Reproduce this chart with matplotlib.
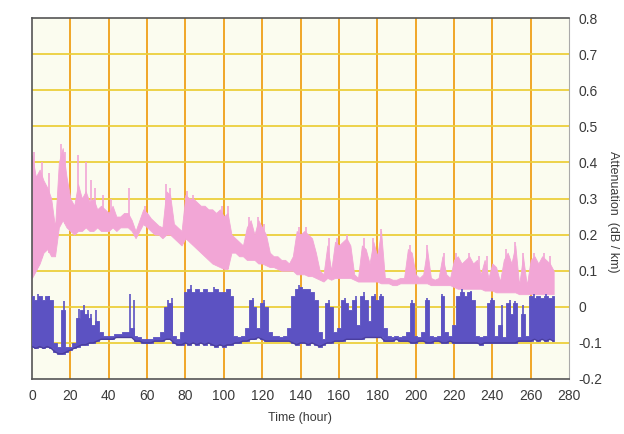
import numpy as np
import matplotlib
matplotlib.use("Agg")
import matplotlib.pyplot as plt

# time grid (hours), one reading every 2 h
hours = np.arange(0, 274, 2)

# pink trace: lower / upper envelope of the dense band
pink_hi = [0.42, 0.36, 0.38, 0.35, 0.33, 0.30, 0.22, 0.40, 0.44, 0.36,
           0.30, 0.28, 0.34, 0.30, 0.32, 0.29, 0.30, 0.27, 0.28, 0.27,
           0.26, 0.28, 0.25, 0.25, 0.26, 0.26, 0.24, 0.21, 0.24, 0.27,
           0.26, 0.245, 0.235, 0.225, 0.22, 0.32, 0.31, 0.23, 0.22, 0.21,
           0.31, 0.30, 0.30, 0.29, 0.28, 0.28, 0.27, 0.27, 0.26, 0.27,
           0.25, 0.26, 0.20, 0.19, 0.18, 0.17, 0.22, 0.24, 0.20, 0.24,
           0.22, 0.20, 0.15, 0.14, 0.14, 0.13, 0.13, 0.12, 0.14, 0.21,
           0.20, 0.21, 0.20, 0.19, 0.15, 0.10, 0.09, 0.17, 0.10, 0.18,
           0.17, 0.18, 0.19, 0.17, 0.09, 0.08, 0.17, 0.16, 0.12, 0.18,
           0.14, 0.21, 0.08, 0.08, 0.075, 0.075, 0.08, 0.08, 0.16, 0.15,
           0.09, 0.08, 0.09, 0.16, 0.08, 0.075, 0.08, 0.14, 0.09, 0.08,
           0.13, 0.14, 0.12, 0.13, 0.14, 0.12, 0.13, 0.09, 0.13, 0.08,
           0.12, 0.11, 0.07, 0.13, 0.15, 0.12, 0.17, 0.06, 0.14, 0.06,
           0.13, 0.14, 0.12, 0.14, 0.13, 0.12, 0.10]
pink_lo = [0.08, 0.10, 0.12, 0.15, 0.16, 0.14, 0.14, 0.22, 0.24, 0.22,
           0.21, 0.20, 0.21, 0.21, 0.22, 0.21, 0.21, 0.22, 0.21, 0.21,
           0.21, 0.22, 0.21, 0.22, 0.22, 0.22, 0.21, 0.19, 0.21, 0.23,
           0.22, 0.21, 0.20, 0.20, 0.19, 0.20, 0.20, 0.19, 0.18, 0.17,
           0.19, 0.18, 0.17, 0.16, 0.15, 0.14, 0.13, 0.12, 0.115, 0.11,
           0.105, 0.105, 0.15, 0.15, 0.14, 0.14, 0.13, 0.13, 0.13, 0.12,
           0.12, 0.115, 0.11, 0.11, 0.105, 0.10, 0.10, 0.10, 0.10, 0.09,
           0.09, 0.09, 0.085, 0.085, 0.08, 0.075, 0.07, 0.08, 0.075, 0.08,
           0.08, 0.08, 0.08, 0.08, 0.075, 0.07, 0.07, 0.07, 0.07, 0.07,
           0.07, 0.065, 0.065, 0.065, 0.06, 0.06, 0.065, 0.065, 0.065, 0.065,
           0.065, 0.065, 0.065, 0.065, 0.06, 0.06, 0.06, 0.06, 0.06, 0.06,
           0.055, 0.05, 0.05, 0.05, 0.05, 0.05, 0.05, 0.05, 0.045, 0.045,
           0.045, 0.04, 0.04, 0.04, 0.04, 0.04, 0.04, 0.035, 0.035, 0.035,
           0.035, 0.035, 0.035, 0.035, 0.035, 0.035, 0.035]

# blue trace: lower / upper envelope
blue_hi = [0.03, 0.02, 0.03, 0.02, 0.03, 0.02, -0.10, -0.11, -0.01, -0.11,
           -0.11, -0.10, -0.03, -0.01, -0.02, -0.03, -0.05, -0.04, -0.07, -0.08,
           -0.08, -0.08, -0.075, -0.075, -0.07, -0.07, -0.06, -0.08, -0.085, -0.09,
           -0.09, -0.09, -0.085, -0.085, -0.07, 0.00, 0.01, -0.08, -0.09, -0.07,
           0.04, 0.05, 0.04, 0.05, 0.04, 0.05, 0.04, 0.04, 0.05, 0.04,
           0.04, 0.05, 0.03, -0.08, -0.085, -0.08, -0.06, 0.02, 0.00, -0.06,
           0.01, 0.00, -0.07, -0.08, -0.08, -0.085, -0.08, -0.06, 0.03, 0.05,
           0.055, 0.05, 0.05, 0.04, 0.02, -0.07, -0.09, 0.01, 0.00, -0.07,
           -0.06, 0.02, 0.01, -0.01, 0.02, -0.05, 0.03, 0.02, -0.04, 0.03,
           0.02, 0.03, -0.06, -0.08, -0.085, -0.08, -0.085, -0.08, -0.07, 0.01,
           -0.08, -0.085, -0.07, 0.02, -0.08, -0.085, -0.08, 0.03, -0.07, -0.08,
           -0.05, 0.03, 0.04, 0.03, 0.04, 0.02, -0.08, -0.085, -0.08, 0.01,
           0.02, -0.08, -0.05, -0.085, 0.01, -0.02, 0.01, -0.085, -0.02, -0.08,
           0.03, 0.025, 0.03, 0.025, 0.03, 0.025, 0.03]
blue_lo = [-0.11, -0.115, -0.11, -0.115, -0.11, -0.115, -0.125, -0.13, -0.13, -0.125,
           -0.12, -0.115, -0.11, -0.105, -0.105, -0.10, -0.10, -0.095, -0.09, -0.09,
           -0.09, -0.09, -0.085, -0.085, -0.085, -0.085, -0.085, -0.095, -0.095, -0.10,
           -0.10, -0.10, -0.095, -0.095, -0.095, -0.09, -0.09, -0.10, -0.105, -0.105,
           -0.10, -0.105, -0.10, -0.105, -0.10, -0.105, -0.10, -0.105, -0.11, -0.105,
           -0.11, -0.105, -0.105, -0.10, -0.10, -0.095, -0.095, -0.09, -0.09, -0.085,
           -0.09, -0.095, -0.095, -0.095, -0.095, -0.095, -0.095, -0.095, -0.10, -0.105,
           -0.10, -0.10, -0.105, -0.10, -0.105, -0.11, -0.105, -0.10, -0.10, -0.095,
           -0.095, -0.095, -0.09, -0.09, -0.09, -0.09, -0.09, -0.085, -0.085, -0.085,
           -0.085, -0.085, -0.095, -0.095, -0.095, -0.09, -0.095, -0.095, -0.095, -0.10,
           -0.10, -0.095, -0.095, -0.10, -0.10, -0.095, -0.095, -0.10, -0.10, -0.095,
           -0.10, -0.10, -0.10, -0.10, -0.10, -0.10, -0.10, -0.105, -0.10, -0.10,
           -0.10, -0.10, -0.10, -0.10, -0.10, -0.10, -0.10, -0.095, -0.095, -0.095,
           -0.095, -0.09, -0.095, -0.09, -0.095, -0.09, -0.095]

# single tall spikes (hour, peak value)
pink_spike_t = [1, 5, 9, 15, 17, 24, 28, 31, 33, 37, 41, 50.5, 59, 70, 72, 81, 84,
                99, 102, 113, 118, 121, 139, 143, 155, 159, 164, 173, 178, 182,
                197, 206, 215, 221, 228, 233, 237, 247, 252, 256, 262, 267, 270]
pink_spike_y = [0.43, 0.40, 0.37, 0.45, 0.43, 0.42, 0.40, 0.35, 0.33, 0.31, 0.30,
                0.33, 0.28, 0.34, 0.33, 0.32, 0.31, 0.28, 0.28, 0.25, 0.25, 0.23,
                0.22, 0.22, 0.19, 0.19, 0.20, 0.19, 0.19, 0.215, 0.17, 0.17, 0.15,
                0.15, 0.15, 0.14, 0.14, 0.16, 0.18, 0.15, 0.15, 0.15, 0.14]
blue_spike_t = [3, 9, 16.5, 24.5, 27, 29, 31, 33.5, 51, 53, 71, 73, 83, 95, 115, 121,
                139, 155, 163, 169, 173, 179, 182, 198, 206, 214, 224, 229, 240,
                245, 249, 252, 256, 262, 268]
blue_spike_y = [0.035, 0.03, 0.015, -0.005, 0.005, -0.01, -0.02, -0.01, 0.035, 0.02,
                0.02, 0.025, 0.06, 0.055, 0.025, 0.02, 0.06, 0.02, 0.025, 0.03,
                0.04, 0.035, 0.035, 0.02, 0.025, 0.035, 0.05, 0.045, 0.025, 0.005,
                0.02, 0.015, 0.005, 0.035, 0.035]

pink = '#f2a6d6'
blue = '#5c52c2'

fig = plt.figure(figsize=(6.24, 4.34), dpi=100)
ax = fig.add_axes([32 / 624, 1 - 379 / 434, 537 / 624, 361 / 434])
ax.set_facecolor('#fbfcef')

# grid
for x in range(20, 280, 20):
    ax.axvline(x, color='#f0a628', lw=1.4, zorder=1)
for y in np.arange(-0.1, 0.8, 0.1):
    ax.axhline(y, color='#eccf3c', lw=1.3, zorder=1)

# pink
ax.fill_between(hours, pink_lo, pink_hi, color=pink, lw=0.6, zorder=2)
ax.vlines(pink_spike_t, np.interp(pink_spike_t, hours, pink_lo), pink_spike_y,
          color=pink, lw=1.2, zorder=2)

# blue
ax.fill_between(hours, blue_lo, blue_hi, step='mid', color=blue, lw=0.6, zorder=3)
ax.vlines(blue_spike_t, np.interp(blue_spike_t, hours, blue_lo), blue_spike_y,
          color=blue, lw=1.2, zorder=3)
ax.plot(hours, blue_lo, color='#4a3e9e', lw=1.0, zorder=3)

ax.set_xlim(0, 280)
ax.set_ylim(-0.2, 0.8)
ax.set_xticks(range(0, 300, 20))
ax.set_yticks([-0.2, -0.1, 0, 0.1, 0.2, 0.3, 0.4, 0.5, 0.6, 0.7, 0.8])
ax.set_yticklabels(['-0.2', '-0.1', '0', '0.1', '0.2', '0.3', '0.4', '0.5',
                    '0.6', '0.7', '0.8'])
ax.yaxis.tick_right()
ax.tick_params(length=0, labelsize=10, colors='#3a3a3a', pad=7)
for lab in ax.get_xticklabels() + ax.get_yticklabels():
    lab.set_family('Liberation Sans')

for side in ['left', 'top', 'bottom']:
    ax.spines[side].set_color('#555555')
    ax.spines[side].set_linewidth(1.2)
ax.spines['right'].set_color('#aaaaaa')

fig.text(300 / 624, 1 - 418 / 434, 'Time (hour)', ha='center', va='center',
         fontsize=9, color='#3a3a3a', family='Liberation Sans')
fig.text(613 / 624, 1 - 212 / 434, 'Attenuation  (dB / km)', ha='center',
         va='center', rotation=270, fontsize=9, color='#3a3a3a',
         family='Liberation Sans')

fig.savefig('out.png', dpi=100)
